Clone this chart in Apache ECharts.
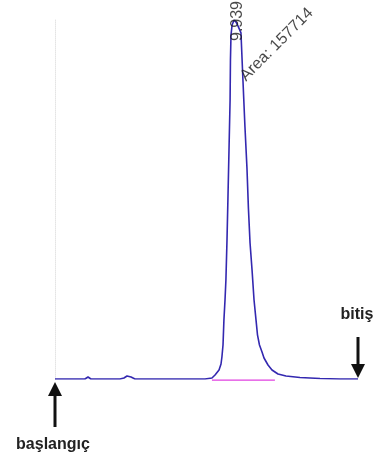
<!DOCTYPE html>
<html>
<head>
<meta charset="utf-8">
<script src="https://cdn.jsdelivr.net/npm/echarts@6/dist/echarts.min.js"></script>
<style>
html,body{margin:0;padding:0;background:#fff;}
#chart{width:380px;height:467px;}
</style>
</head>
<body>
<div id="chart"></div>
<script>
// retention time (min) and detector signal
var timeMin = [0, 1.65, 1.82, 1.98, 3.58, 3.80, 3.97, 4.19, 4.41, 8.27, 8.65, 8.82, 9.04, 9.15, 9.20, 9.26,
	9.31, 9.37, 9.42, 9.48, 9.53, 9.59, 9.65, 9.67, 9.70, 9.76, 9.87, 9.939, 9.98, 10.09, 10.25, 10.36,
	10.39, 10.47, 10.58, 10.66, 10.75, 10.86, 10.97, 11.08, 11.16, 11.27, 11.41, 11.52, 11.74, 11.96,
	12.29, 12.73, 13.50, 14.61, 15.71, 16.70];
var signal = [0, 0, 0.56, 0, 0, 0.28, 0.84, 0.56, 0, 0, 0.28, 1.11, 2.51, 4.18, 6.13, 9.47,
	16.4, 22.0, 27.6, 38.7, 49.9, 63.8, 77.7, 88.9, 95.8, 98.6, 100, 100, 99.4, 98.3, 96.4, 83.1,
	83.1, 70.2, 58.8, 47.6, 37.9, 30.4, 22.0, 16.4, 12.3, 9.47, 7.52, 5.85, 3.90, 2.51,
	1.39, 0.84, 0.42, 0.14, 0, 0];
var integStart = 8.65, integEnd = 12.12;
var peakTime = 9.939;
var peakArea = 157714;
var startLabel = 'başlangıç';
var endLabel = 'bitiş';

var chart = echarts.init(document.getElementById('chart'));

var lineData = [];
for (var i = 0; i < timeMin.length; i++) {
	lineData.push([timeMin[i], signal[i]]);
}

var option = {
	animation: false,
	grid: { left: 55, right: 22, top: 20, bottom: 88 },
	xAxis: {
		type: 'value', min: 0, max: 16.7,
		axisLine: { show: false }, axisTick: { show: false },
		axisLabel: { show: false }, splitLine: { show: false }
	},
	yAxis: {
		type: 'value', min: 0, max: 100,
		axisLine: { show: true, lineStyle: { color: '#e4e4e4', type: 'dotted', width: 1 } },
		axisTick: { show: false }, axisLabel: { show: false }, splitLine: { show: false }
	},
	series: [
		{
			name: 'baseline',
			type: 'line',
			clip: false,
			showSymbol: false,
			z: 1,
			lineStyle: { color: '#e040e0', width: 1.2 },
			data: [[integStart, -0.3], [integEnd, -0.3]]
		},
		{
			name: 'signal',
			type: 'line',
			showSymbol: false,
			z: 2,
			lineStyle: { color: '#3328b0', width: 1.6 },
			data: lineData
		},
		{
			name: 'labels',
			type: 'scatter',
			symbolSize: 1,
			z: 3,
			itemStyle: { color: 'rgba(0,0,0,0)' },
			label: { show: true, color: '#1a1a1a', fontFamily: 'Liberation Sans, Arial', fontSize: 16 },
			data: [
				{ value: [peakTime, 100], label: { formatter: String(peakTime), rotate: 90, position: 'inside', offset: [-1, 2] } },
				{ value: [10.39, 83.1], label: { formatter: 'Area: ' + peakArea, rotate: 45, position: 'inside', align: 'left', verticalAlign: 'middle', offset: [1, -2] } }
			]
		}
	]
};
chart.setOption(option);

// arrows and start/end captions placed from the axis ends
var p0 = chart.convertToPixel({ gridIndex: 0 }, [0, 0]);
var p1 = chart.convertToPixel({ gridIndex: 0 }, [16.7, 0]);

function arrow(x, tipY, tailY) {
	var dir = tailY > tipY ? 1 : -1;
	var headY = tipY + dir * 14;
	return [
		{ type: 'line', shape: { x1: x, y1: headY, x2: x, y2: tailY }, style: { stroke: '#111', lineWidth: 3 } },
		{ type: 'polygon', shape: { points: [[x, tipY], [x - 7, headY], [x + 7, headY]] }, style: { fill: '#111' } }
	];
}

var graphics = [];
graphics = graphics.concat(arrow(p0[0], p0[1] + 3, p0[1] + 48));
graphics = graphics.concat(arrow(p1[0], p1[1] - 1, p1[1] - 42));
graphics.push({
	type: 'text', x: p0[0] - 2, y: p0[1] + 66,
	style: { text: startLabel, fill: '#222', font: 'bold 16px "Liberation Sans", Arial', align: 'center', verticalAlign: 'middle' }
});
graphics.push({
	type: 'text', x: p1[0] - 1, y: p1[1] - 64,
	style: { text: endLabel, fill: '#222', font: 'bold 16px "Liberation Sans", Arial', align: 'center', verticalAlign: 'middle' }
});
chart.setOption({ graphic: graphics });
</script>
</body>
</html>
